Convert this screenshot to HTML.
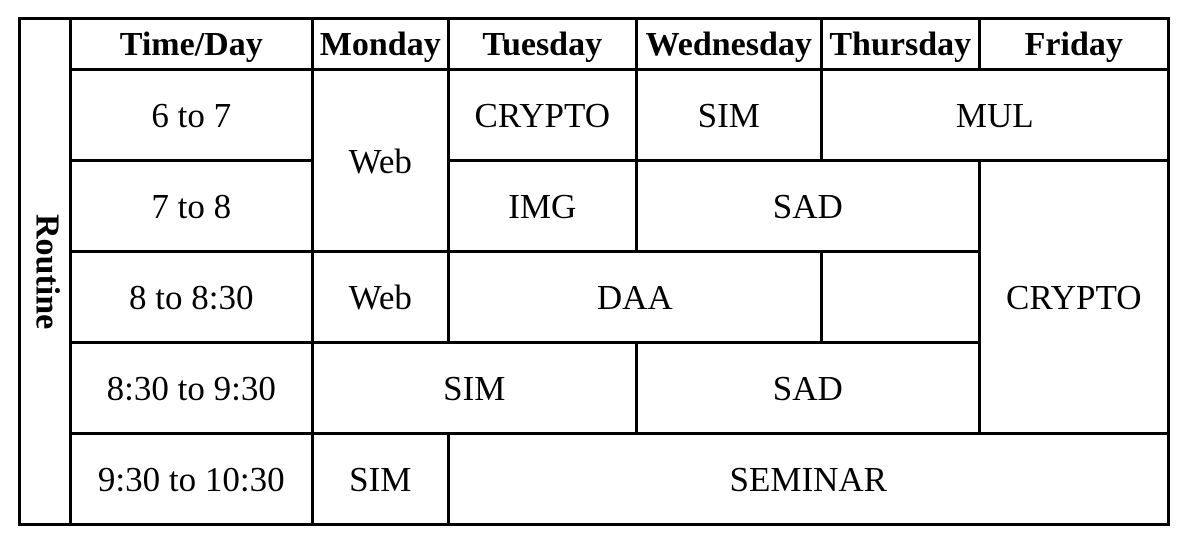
<!DOCTYPE html>
<html><head><meta charset="utf-8"><style>
body{margin:0;width:1189px;height:538px;background:#fff;position:relative;overflow:hidden;font-family:"Liberation Serif",serif;}
.c{position:absolute;box-sizing:border-box;border:3.5px solid #000;display:flex;align-items:center;justify-content:center;font-size:35px;color:#000;padding-top:3px;}
.h{font-weight:bold;font-size:34px;}
.rot{writing-mode:vertical-rl;font-weight:bold;padding-top:0;padding-left:3px;font-size:34px;}
</style></head><body>
<div id="t"></div>
<script>
const cells=[
["routine-label","Routine",19,70,18,524,"c rot"],
["header-time-day","Time/Day",70,312,18,69,"c h"],
["header-monday","Monday",312,448,18,69,"c h"],
["header-tuesday","Tuesday",448,636,18,69,"c h"],
["header-wednesday","Wednesday",636,821,18,69,"c h"],
["header-thursday","Thursday",821,979,18,69,"c h"],
["header-friday","Friday",979,1168,18,69,"c h"],
["time-6-7","6 to 7",70,312,69,160,"c"],
["mon-web-1","Web",312,448,69,251,"c"],
["tue-crypto","CRYPTO",448,636,69,160,"c"],
["wed-sim","SIM",636,821,69,160,"c"],
["thu-fri-mul","MUL",821,1168,69,160,"c"],
["time-7-8","7 to 8",70,312,160,251,"c"],
["tue-img","IMG",448,636,160,251,"c"],
["wed-thu-sad-1","SAD",636,979,160,251,"c"],
["fri-crypto","CRYPTO",979,1168,160,433,"c"],
["time-8-830","8 to 8:30",70,312,251,342,"c"],
["mon-web-2","Web",312,448,251,342,"c"],
["tue-wed-daa","DAA",448,821,251,342,"c"],
["thu-empty","",821,979,251,342,"c"],
["time-830-930","8:30 to 9:30",70,312,342,433,"c"],
["mon-tue-sim","SIM",312,636,342,433,"c"],
["wed-thu-sad-2","SAD",636,979,342,433,"c"],
["time-930-1030","9:30 to 10:30",70,312,433,524,"c"],
["mon-sim","SIM",312,448,433,524,"c"],
["seminar","SEMINAR",448,1168,433,524,"c"]
];
const t=document.getElementById('t');
for(const [n,txt,x1,x2,y1,y2,cls] of cells){
 const d=document.createElement('div');
 d.className=cls;
 
 
 d.style.left=(x1-1.5)+'px';d.style.top=(y1-1.5)+'px';
 d.style.width=(x2-x1+3.5)+'px';d.style.height=(y2-y1+3.5)+'px';
 d.textContent=txt;
 t.appendChild(d);
}
</script>
</body></html>
